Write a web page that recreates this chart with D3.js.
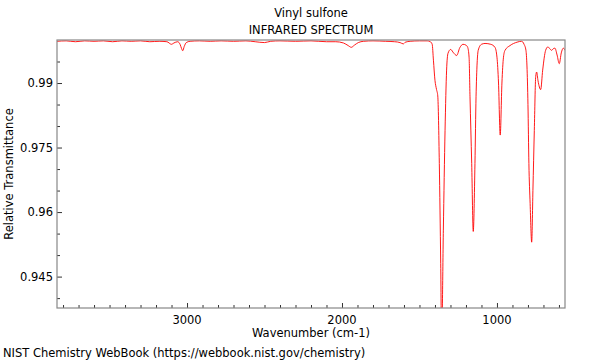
<!DOCTYPE html>
<html>
<head>
<meta charset="utf-8">
<script src="https://cdn.jsdelivr.net/npm/d3@7"></script>
<style>
  html, body { margin: 0; padding: 0; background: #fff; }
  svg { display: block; font-family: "DejaVu Sans", sans-serif; }
</style>
</head>
<body>
<svg id="chart" width="600" height="360"></svg>
<script>
// ---- data ----
const titleLines = ["Vinyl sulfone", "INFRARED SPECTRUM"];
const xLabel = "Wavenumber (cm-1)";
const yLabel = "Relative Transmittance";
const footer = "NIST Chemistry WebBook (https://webbook.nist.gov/chemistry)";

const xDomain = [3839, 561];
const yDomain = [0.9377, 1.0];
const xMajorTicks = [3000, 2000, 1000];
const yMajorTicks = [0.945, 0.96, 0.975, 0.99];
const yTickLabels = ["0.945", "0.96", "0.975", "0.99"];

const wavenumber = [
  3839, 3780, 3720, 3660, 3600, 3540, 3480, 3420, 3360, 3300, 3240, 3180, 3130,
  3100, 3085, 3060, 3045, 3035, 3028, 3018, 3005, 2980, 2920, 2850, 2780, 2700,
  2620, 2560, 2500, 2460, 2400, 2300, 2200, 2100, 2040, 1990, 1960, 1940, 1920,
  1895, 1860, 1800, 1720, 1660, 1625, 1605, 1590, 1560, 1500, 1450, 1430, 1418,
  1410, 1400, 1390, 1382, 1372, 1363, 1357, 1346, 1335, 1325, 1316, 1299, 1280,
  1260, 1240, 1219, 1200, 1189, 1180, 1174, 1163, 1153, 1142, 1135, 1121, 1100,
  1077, 1040, 1013, 1000, 990, 979, 968, 958, 948, 916, 870, 841, 825, 813, 800,
  794, 786, 776, 768, 759, 750, 744, 735, 718, 705, 686, 671, 660, 647, 636, 626,
  612, 598, 585, 572, 561
];
const transmittance = [
  0.9997, 0.9998, 0.9996, 0.9998, 0.9997, 0.9998, 0.9996, 0.9998, 0.9997, 0.9998, 0.9996, 0.9997, 0.9996,
  0.9990, 0.9993, 0.9996, 0.9990, 0.9980, 0.9975, 0.9985, 0.9994, 0.9997, 0.9998, 0.9997, 0.9998, 0.9997,
  0.9998, 0.9996, 0.9994, 0.9997, 0.9998, 0.9997, 0.9998, 0.9996, 0.9996, 0.9993, 0.9987, 0.9983, 0.9988,
  0.9994, 0.9997, 0.9998, 0.9997, 0.9996, 0.9994, 0.9991, 0.9995, 0.9997, 0.9998, 0.9998, 0.9996, 0.9990,
  0.9953, 0.9906, 0.9885, 0.9870, 0.9713, 0.9480, 0.9300, 0.9558, 0.9790, 0.9930, 0.9969, 0.9978, 0.9970,
  0.9964, 0.9982, 0.9990, 0.9988, 0.9983, 0.9960, 0.9868, 0.9713, 0.9555, 0.9713, 0.9868, 0.9976, 0.9990,
  0.9992, 0.9990, 0.9983, 0.9960, 0.9900, 0.9779, 0.9900, 0.9960, 0.9976, 0.9987, 0.9995, 0.9997, 0.9990, 0.9976, 0.9850,
  0.9713, 0.9620, 0.9530, 0.9650, 0.9790, 0.9915, 0.99255, 0.9905, 0.98847, 0.9930, 0.9976, 0.9984, 0.9980, 0.9976, 0.9980, 0.9981,
  0.9965, 0.9945, 0.9970, 0.9981, 0.9976
];

// ---- layout ----
const svg = d3.select("#chart");
const L = 57, R = 565, T = 40, B = 308;
const FS = 11.5;

const x = d3.scaleLinear().domain(xDomain).range([L, R]);
const y = d3.scaleLinear().domain(yDomain).range([B, T]);

svg.append("defs").append("clipPath").attr("id", "clip")
  .append("rect").attr("x", L).attr("y", T).attr("width", R - L).attr("height", B - T);

// spectrum
const pts = wavenumber.map((w, i) => [w, transmittance[i]]);
const line = d3.line().x(d => x(d[0])).y(d => y(d[1])).curve(d3.curveMonotoneX);
svg.append("path")
  .datum(pts.slice().reverse())
  .attr("clip-path", "url(#clip)")
  .attr("fill", "none")
  .attr("stroke", "#ff0000")
  .attr("stroke-width", 0.9)
  .attr("d", line);

// axes: ticks pointing inward
const xMinor = d3.range(600, 3900, 100).filter(v => v <= xDomain[0] && v >= xDomain[1] && !xMajorTicks.includes(v));
const gx = svg.append("g").attr("transform", `translate(0,${B})`)
  .call(d3.axisTop(x).tickValues(xMajorTicks).tickSize(5).tickFormat(""));
gx.select(".domain").remove();
gx.selectAll("line").attr("stroke", "#333");
const gxm = svg.append("g").attr("transform", `translate(0,${B})`)
  .call(d3.axisTop(x).tickValues(xMinor).tickSize(3).tickFormat(""));
gxm.select(".domain").remove();
gxm.selectAll("line").attr("stroke", "#333");

svg.append("g").selectAll("text").data(xMajorTicks).join("text")
  .attr("x", d => x(d)).attr("y", B + 16)
  .attr("text-anchor", "middle").attr("font-size", FS).attr("fill", "#000")
  .text(d => d);

const yMinor = d3.range(0.94, 1.0, 0.005).map(v => +v.toFixed(3))
  .filter(v => v >= yDomain[0] && v < yDomain[1] && !yMajorTicks.includes(v));
const gy = svg.append("g").attr("transform", `translate(${L},0)`)
  .call(d3.axisRight(y).tickValues(yMajorTicks).tickSize(5).tickFormat(""));
gy.select(".domain").remove();
gy.selectAll("line").attr("stroke", "#333");
const gym = svg.append("g").attr("transform", `translate(${L},0)`)
  .call(d3.axisRight(y).tickValues(yMinor).tickSize(3).tickFormat(""));
gym.select(".domain").remove();
gym.selectAll("line").attr("stroke", "#333");

svg.append("g").selectAll("text").data(yMajorTicks).join("text")
  .attr("x", L - 4).attr("y", d => y(d) + 4)
  .attr("text-anchor", "end").attr("font-size", FS).attr("fill", "#000")
  .text((d, i) => yTickLabels[i]);

// frame
svg.append("rect").attr("x", L).attr("y", T).attr("width", R - L).attr("height", B - T)
  .attr("fill", "none").attr("stroke", "#888").attr("stroke-width", 1.2);

// titles
titleLines.forEach((t, i) => {
  svg.append("text").attr("x", (L + R) / 2).attr("y", 17 + i * 17)
    .attr("text-anchor", "middle").attr("font-size", FS).attr("fill", "#000").text(t);
});
svg.append("text").attr("x", (L + R) / 2).attr("y", B + 29)
  .attr("text-anchor", "middle").attr("font-size", FS).attr("fill", "#000").text(xLabel);
svg.append("text").attr("transform", `translate(13,${(T + B) / 2}) rotate(-90)`)
  .attr("text-anchor", "middle").attr("font-size", FS).attr("fill", "#000").text(yLabel);
svg.append("text").attr("x", 3).attr("y", 357)
  .attr("font-size", FS).attr("fill", "#000").text(footer);
</script>
</body>
</html>
